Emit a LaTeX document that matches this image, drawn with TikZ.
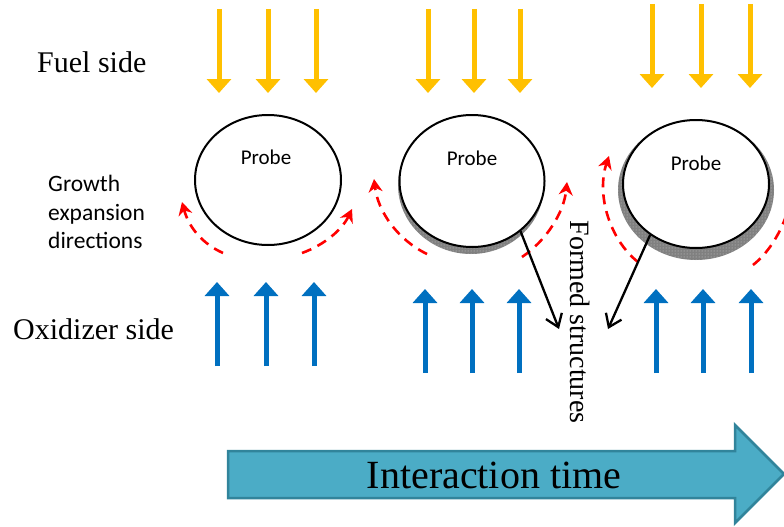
\documentclass[tikz,border=0pt]{standalone}
\usepackage{fontspec}
\setmainfont{Liberation Serif}
\newfontfamily\calibfont{Carlito}
\usetikzlibrary{arrows.meta,shapes.geometric,patterns}
\definecolor{fuelc}{HTML}{FFC000}
\definecolor{oxc}{HTML}{0070C0}
\definecolor{timefill}{HTML}{4BACC6}
\definecolor{timedraw}{HTML}{31849B}
\definecolor{growred}{HTML}{FF0000}
\begin{document}
\begin{tikzpicture}[x=1pt,y=-1pt,
  fuelarrow/.style={fuelc, line width=5pt, -{Triangle[length=14pt,width=24pt]}},
  oxarrow/.style={oxc, line width=5pt, -{Triangle[length=14pt,width=24pt]}},
  growarc/.style={growred, line width=2.6pt, dash pattern=on 10pt off 7pt, -{Stealth[length=13pt,width=14pt]}},
  formarrow/.style={black, line width=2.3pt, -{Straight Barb[length=12pt,width=17pt]}},
  probe/.style={ellipse, draw=black, line width=2pt, fill=white, inner sep=0pt},
  probetext/.style={font=\calibfont\fontsize{21}{25}\selectfont},
  sidelabel/.style={font=\fontsize{30}{36}\selectfont, anchor=base west, inner sep=0pt},
  growlabel/.style={font=\calibfont\fontsize{23.5}{28}\selectfont, anchor=base west, inner sep=0pt},
  shadowdark/.style={fill=black!50},
  shadowdots/.style={pattern=dots, pattern color=white!80!black}
]
\useasboundingbox (0,0) rectangle (784,527);
\clip (0,0) rectangle (784,527);

% flux arrows (fuel side)
\foreach \x/\n in {219/a1,268/a2,316/a3,428/b1,474/b2,520/b3} {
  \coordinate (f\n s) at (\x,9);
  \coordinate (f\n e) at (\x,93);
  \draw[fuelarrow] (f\n s) -- (f\n e);
}
\foreach \x/\n in {652/c1,701/c2,750/c3} {
  \coordinate (f\n s) at (\x,4);
  \coordinate (f\n e) at (\x,88);
  \draw[fuelarrow] (f\n s) -- (f\n e);
}
% flux arrows (oxidizer side)
\foreach \x/\n in {217/a1,266/a2,314/a3} {
  \coordinate (o\n s) at (\x,366);
  \coordinate (o\n e) at (\x,282);
  \draw[oxarrow] (o\n s) -- (o\n e);
}
\foreach \x/\n in {425/b1,472/b2,519/b3,656/c1,703/c2,751/c3} {
  \coordinate (o\n s) at (\x,373);
  \coordinate (o\n e) at (\x,289);
  \draw[oxarrow] (o\n s) -- (o\n e);
}

% labels
\node[sidelabel] (fuel) at (37,73) {Fuel side};
\node[sidelabel] (oxid) at (13,339) {Oxidizer side};
\node[growlabel] (g1) at (48,191) {Growth};
\node[growlabel] (g2) at (48,220) {expansion};
\node[growlabel] (g3) at (48,248) {directions};

% probe 1
\node[probe, minimum width=146pt, minimum height=130pt] (c1) at (268,180) {};
\node[probetext] (p1) at (266,157) {Probe};

% probe 2 with thin deposit
\fill[shadowdark] (471,185) ellipse [x radius=73, y radius=69];
\fill[shadowdots] (471,185) ellipse [x radius=73, y radius=69];
\node[probe, minimum width=145pt, minimum height=132pt] (c2) at (472,181) {};
\node[probetext] (p2) at (472,158) {Probe};

% probe 3 with thicker deposit
\fill[shadowdark] (696,190) ellipse [x radius=78, y radius=70];
\fill[shadowdots] (696,190) ellipse [x radius=78, y radius=70];
\node[probe, minimum width=146pt, minimum height=128pt] (c3) at (696,184) {};
\node[probetext] (p3) at (696,163) {Probe};

% growth expansion arcs
\coordinate (r1a) at (223,253); \coordinate (r1b) at (182,202);
\coordinate (r1c) at (302,253); \coordinate (r1d) at (352,209);
\draw[growarc] (r1a) .. controls (203,244) and (189,228) .. (r1b);
\draw[growarc] (r1c) .. controls (324,245) and (342,230) .. (r1d);
\coordinate (r2a) at (427,254); \coordinate (r2b) at (374,179);
\coordinate (r2c) at (522,257); \coordinate (r2d) at (567,182);
\draw[growarc] (r2a) .. controls (398,240) and (378,212) .. (r2b);
\draw[growarc] (r2c) .. controls (547,240) and (564,212) .. (r2d);
\coordinate (r3a) at (638,262); \coordinate (r3b) at (609,156);
\coordinate (r3c) at (753,265); \coordinate (r3d) at (792,150);
\draw[growarc] (r3a) .. controls (610,240) and (596,195) .. (r3b);
\draw[growarc] (r3c) .. controls (782,242) and (798,195) .. (r3d);

% formed structures
\node[rotate=-90, font=\fontsize{28}{30}\selectfont, inner sep=0pt] (fs) at (580,322) {Formed structures};
\coordinate (fsa) at (559,329);
\coordinate (fsb) at (608,329);
\draw[formarrow] (c2.-46) -- (fsa);
\draw[formarrow] (c3.-132) -- (fsb);

% interaction time arrow
\draw[fill=timefill, draw=timedraw, line width=2.5pt, line join=miter]
  (228,451) -- (735,451) -- (735,425) -- (784,474) -- (735,523) -- (735,498) -- (228,498) -- cycle;
\node[font=\fontsize{40}{44}\selectfont, anchor=base, inner sep=0pt] (itime) at (494,488) {Interaction time};
\end{tikzpicture}
\end{document}
